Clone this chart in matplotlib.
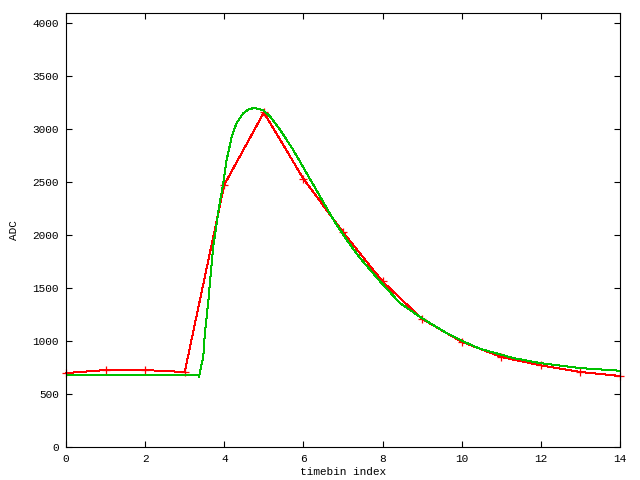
import matplotlib
matplotlib.use("Agg")
import matplotlib.pyplot as plt

timebin = [0, 1, 2, 3, 4, 5, 6, 7, 8, 9, 10, 11, 12, 13, 14]
adc = [698, 726, 726, 708, 2475, 3157, 2531, 2028, 1562, 1208, 993, 849, 770, 708, 670]

fit_x = [0, 3.34, 3.36, 3.47, 3.51, 3.60, 3.66, 3.72, 3.81, 3.87, 3.96, 4.06,
         4.19, 4.31, 4.48, 4.60, 4.73, 4.86, 4.99, 5.16, 5.41, 5.74, 6.08, 6.42,
         6.76, 7.09, 7.43, 7.94, 8.44, 8.99, 9.62, 9.98, 10.46, 11.30, 11.98,
         12.99, 14.0]
fit_y = [682, 682, 662, 855, 1075, 1390, 1642, 1892, 2113, 2270, 2458, 2710,
         2930, 3057, 3151, 3183, 3198, 3192, 3175, 3119, 2993, 2805, 2585, 2364,
         2144, 1956, 1783, 1562, 1358, 1217, 1075, 1006, 927, 840, 792,
         745, 720]

plt.rcParams['font.family'] = ['Liberation Mono', 'DejaVu Sans Mono']
plt.rcParams['font.size'] = 8

fig = plt.figure(figsize=(6.4, 4.8), dpi=100)
ax = fig.add_axes([66 / 640, 33 / 480, 554 / 640, 434 / 480])

ax.plot(timebin, adc, color='#ff0000', linewidth=0.72, marker='+',
        markersize=6, markeredgewidth=0.9, antialiased=False, clip_on=False)
ax.plot(fit_x, fit_y, color='#00c000', linewidth=0.72, antialiased=False)

ax.set_xlim(0, 14)
ax.set_ylim(0, 4096)
ax.set_xticks(range(0, 15, 2))
ax.set_yticks(range(0, 4001, 500))
ax.tick_params(direction='in', length=4, width=0.8, top=True, right=True,
               labelsize=8, pad=5)
for s in ax.spines.values():
    s.set_linewidth(0.8)

ax.set_xlabel("timebin index", fontsize=8, labelpad=2)
ax.set_ylabel("ADC", fontsize=8, labelpad=10)

fig.savefig("out.png", dpi=100)
